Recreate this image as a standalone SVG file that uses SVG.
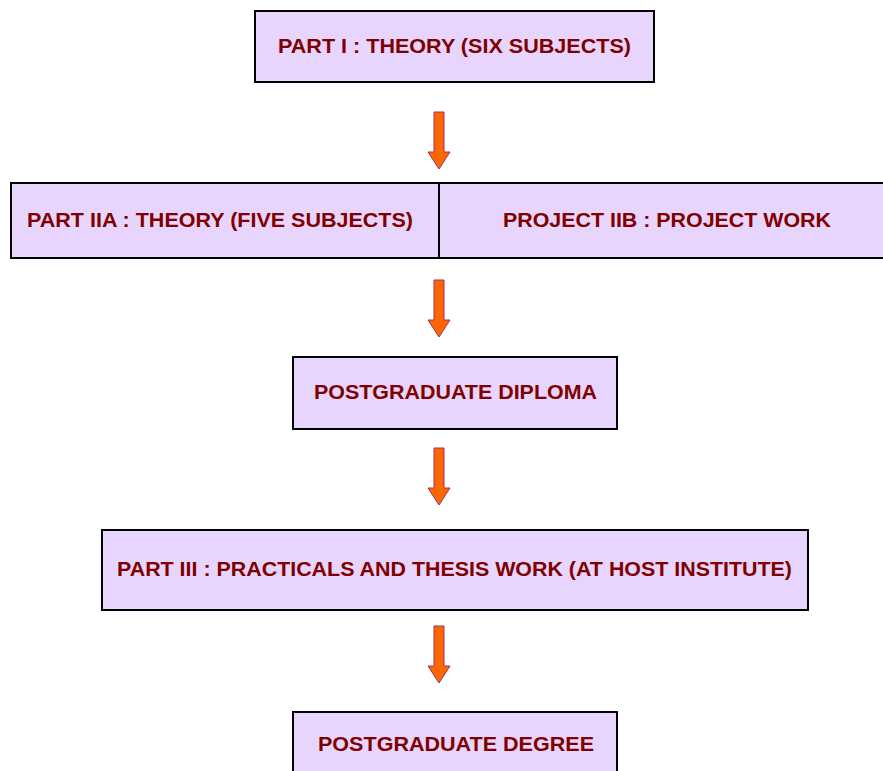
<svg xmlns="http://www.w3.org/2000/svg" width="883" height="771" viewBox="0 0 883 771">
<defs>
<style>
.box{fill:#E8D5FE;stroke:#000;stroke-width:2}
.t{font-family:"Liberation Sans",Arial,sans-serif;font-weight:bold;font-size:21px;fill:#800000;text-anchor:middle}
.arr{fill:#FF6600;stroke:#993366;stroke-width:1}
</style>
<path id="ar" d="M-5,0 H5 V40 H11 L0,57 L-11,40 H-5 Z"/>
</defs>
<g id="connectors">
<use href="#ar" class="arr" x="439" y="112"/>
<use href="#ar" class="arr" x="439" y="280"/>
<use href="#ar" class="arr" x="439" y="448"/>
<use href="#ar" class="arr" x="439" y="626"/>
</g>
<g id="part1">
<rect class="box" x="255" y="11" width="399" height="71"/>
<text class="t" x="454.5" y="52.5" textLength="353" lengthAdjust="spacingAndGlyphs">PART I : THEORY (SIX SUBJECTS)</text>
</g>
<g id="part2a">
<rect class="box" x="11" y="183" width="428" height="75"/>
<text class="t" x="220" y="227" textLength="386" lengthAdjust="spacingAndGlyphs">PART IIA : THEORY (FIVE SUBJECTS)</text>
</g>
<g id="part2b">
<rect class="box" x="439" y="183" width="450" height="75"/>
<text class="t" x="667" y="227" textLength="328" lengthAdjust="spacingAndGlyphs">PROJECT IIB : PROJECT WORK</text>
</g>
<g id="diploma">
<rect class="box" x="293" y="357" width="324" height="72"/>
<text class="t" x="455.5" y="398.5" textLength="283" lengthAdjust="spacingAndGlyphs">POSTGRADUATE DIPLOMA</text>
</g>
<g id="part3">
<rect class="box" x="102" y="530" width="706" height="80"/>
<text class="t" x="454.5" y="576" textLength="675" lengthAdjust="spacingAndGlyphs">PART III : PRACTICALS AND THESIS WORK (AT HOST INSTITUTE)</text>
</g>
<g id="degree">
<rect class="box" x="293" y="712" width="324" height="70"/>
<text class="t" x="456" y="751" textLength="276" lengthAdjust="spacingAndGlyphs">POSTGRADUATE DEGREE</text>
</g>
</svg>
